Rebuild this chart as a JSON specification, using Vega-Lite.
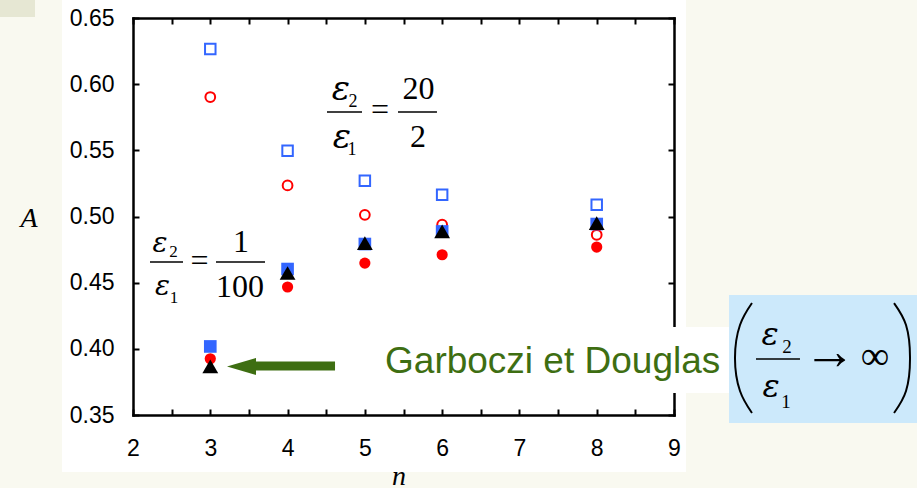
{
  "$schema": "https://vega.github.io/schema/vega-lite/v6.json",
  "width": 541,
  "height": 397,
  "autosize": {"type": "none"},
  "padding": {"left": 133, "top": 18, "right": 243, "bottom": 73},
  "background": "white",
  "config": {
    "view": {"stroke": null},
    "axis": {
      "domainColor": "black", "domainWidth": 2.5, "domainCap": "square",
      "tickColor": "black", "tickWidth": 2, "tickSize": -6,
      "labelFont": "Liberation Sans", "labelFontSize": 23, "labelColor": "black",
      "grid": false, "title": null, "zindex": 0
    }
  },
  "datasets": {
    "pts": [
      {"n": 3, "A": 0.6266, "series": "20/2 square"},
      {"n": 4, "A": 0.5497, "series": "20/2 square"},
      {"n": 5, "A": 0.5270, "series": "20/2 square"},
      {"n": 6, "A": 0.5164, "series": "20/2 square"},
      {"n": 8, "A": 0.5089, "series": "20/2 square"},
      {"n": 3, "A": 0.5903, "series": "20/2 circle"},
      {"n": 4, "A": 0.5235, "series": "20/2 circle"},
      {"n": 5, "A": 0.5013, "series": "20/2 circle"},
      {"n": 6, "A": 0.4938, "series": "20/2 circle"},
      {"n": 8, "A": 0.4862, "series": "20/2 circle"},
      {"n": 3, "A": 0.3925, "series": "1/100 circle"},
      {"n": 4, "A": 0.4467, "series": "1/100 circle"},
      {"n": 5, "A": 0.4648, "series": "1/100 circle"},
      {"n": 6, "A": 0.4711, "series": "1/100 circle"},
      {"n": 8, "A": 0.4769, "series": "1/100 circle"},
      {"n": 3, "A": 0.4018, "series": "1/100 square"},
      {"n": 4, "A": 0.4603, "series": "1/100 square"},
      {"n": 5, "A": 0.4792, "series": "1/100 square"},
      {"n": 6, "A": 0.4887, "series": "1/100 square"},
      {"n": 8, "A": 0.4943, "series": "1/100 square"},
      {"n": 3, "A": 0.3868, "series": "Garboczi et Douglas"},
      {"n": 4, "A": 0.4573, "series": "Garboczi et Douglas"},
      {"n": 5, "A": 0.4799, "series": "Garboczi et Douglas"},
      {"n": 6, "A": 0.4887, "series": "Garboczi et Douglas"},
      {"n": 8, "A": 0.4950, "series": "Garboczi et Douglas"}
    ]
  },
  "resolve": {"axis": {"x": "independent", "y": "independent"}, "scale": {"size": "independent"}},
  "layer": [
    {
      "data": {"values": [
        {"x": 0.15, "x2": 1.081, "y": 0.6712, "y2": 0.2858},
        {"x": 9.155, "x2": 12.313, "y": 0.6712, "y2": 0.2858},
        {"x": 0.15, "x2": 12.313, "y": 0.3069, "y2": 0.2858}
      ]},
      "mark": {"type": "rect", "fill": "#f9f9f0", "clip": false},
      "encoding": {
        "x": {"field": "x", "type": "quantitative", "scale": {"domain": [2, 9], "nice": false, "zero": false}, "axis": null},
        "x2": {"field": "x2"},
        "y": {"field": "y", "type": "quantitative", "scale": {"domain": [0.35, 0.65], "nice": false, "zero": false}, "axis": null},
        "y2": {"field": "y2"}
      }
    },
    {
      "data": {"values": [{"x": 0.15, "x2": 0.732, "y": 0.6712, "y2": 0.6508}]},
      "mark": {"type": "rect", "fill": "#e6e7d3"},
      "encoding": {
        "x": {"field": "x", "type": "quantitative", "scale": {"domain": [2, 9], "nice": false, "zero": false}, "axis": null},
        "x2": {"field": "x2"},
        "y": {"field": "y", "type": "quantitative", "scale": {"domain": [0.35, 0.65], "nice": false, "zero": false}, "axis": null},
        "y2": {"field": "y2"}
      }
    },
    {
      "data": {"values": [{"x": 4.678, "x2": 9.712, "y": 0.4165, "y2": 0.3666}]},
      "mark": {"type": "rect", "fill": "white"},
      "encoding": {
        "x": {"field": "x", "type": "quantitative", "scale": {"domain": [2, 9], "nice": false, "zero": false}, "axis": null},
        "x2": {"field": "x2"},
        "y": {"field": "y", "type": "quantitative", "scale": {"domain": [0.35, 0.65], "nice": false, "zero": false}, "axis": null},
        "y2": {"field": "y2"}
      }
    },
    {
      "data": {"values": [{"x": 9.712, "x2": 12.313, "y": 0.4407, "y2": 0.344}]},
      "mark": {"type": "rect", "fill": "#cce9fb"},
      "encoding": {
        "x": {"field": "x", "type": "quantitative", "scale": {"domain": [2, 9], "nice": false, "zero": false}, "axis": null},
        "x2": {"field": "x2"},
        "y": {"field": "y", "type": "quantitative", "scale": {"domain": [0.35, 0.65], "nice": false, "zero": false}, "axis": null},
        "y2": {"field": "y2"}
      }
    },
    {
      "data": {"name": "pts"},
      "transform": [{"filter": "datum.series == '20/2 square'"}],
      "mark": {"type": "point", "shape": "square", "filled": false, "stroke": "#3366ff", "strokeWidth": 2, "size": 110, "opacity": 1},
      "encoding": {
        "x": {"field": "n", "type": "quantitative", "scale": {"domain": [2, 9], "nice": false, "zero": false},
              "axis": {"orient": "bottom", "values": [2, 2.5, 3, 3.5, 4, 4.5, 5, 5.5, 6, 6.5, 7, 7.5, 8, 8.5, 9], "labelExpr": "datum.value % 1 == 0 ? datum.value : ''", "labelPadding": 28, "labelFlush": false}},
        "y": {"field": "A", "type": "quantitative", "scale": {"domain": [0.35, 0.65], "nice": false, "zero": false},
              "axis": {"orient": "left", "values": [0.35, 0.4, 0.45, 0.5, 0.55, 0.6, 0.65], "format": ".2f", "labelPadding": 25, "labelFlush": false}}
      }
    },
    {
      "data": {"name": "pts"},
      "transform": [{"filter": "datum.series == '20/2 circle'"}],
      "mark": {"type": "point", "shape": "circle", "filled": false, "stroke": "#ff0000", "strokeWidth": 2, "size": 95, "opacity": 1},
      "encoding": {
        "x": {"field": "n", "type": "quantitative", "scale": {"domain": [2, 9], "nice": false, "zero": false}, "axis": null},
        "y": {"field": "A", "type": "quantitative", "scale": {"domain": [0.35, 0.65], "nice": false, "zero": false}, "axis": null}
      }
    },
    {
      "data": {"name": "pts"},
      "transform": [{"filter": "datum.series == '1/100 circle'"}],
      "mark": {"type": "point", "shape": "circle", "filled": true, "color": "#ff0000", "size": 125, "opacity": 1},
      "encoding": {
        "x": {"field": "n", "type": "quantitative", "scale": {"domain": [2, 9], "nice": false, "zero": false}, "axis": null},
        "y": {"field": "A", "type": "quantitative", "scale": {"domain": [0.35, 0.65], "nice": false, "zero": false}, "axis": null}
      }
    },
    {
      "data": {"name": "pts"},
      "transform": [{"filter": "datum.series == '1/100 square'"}],
      "mark": {"type": "point", "shape": "square", "filled": true, "color": "#3366ff", "size": 160, "opacity": 1},
      "encoding": {
        "x": {"field": "n", "type": "quantitative", "scale": {"domain": [2, 9], "nice": false, "zero": false}, "axis": null},
        "y": {"field": "A", "type": "quantitative", "scale": {"domain": [0.35, 0.65], "nice": false, "zero": false}, "axis": null}
      }
    },
    {
      "data": {"name": "pts"},
      "transform": [{"filter": "datum.series == 'Garboczi et Douglas'"}],
      "mark": {"type": "point", "shape": "triangle-up", "filled": true, "color": "black", "size": 250, "opacity": 1},
      "encoding": {
        "x": {"field": "n", "type": "quantitative", "scale": {"domain": [2, 9], "nice": false, "zero": false},
              "axis": {"orient": "top", "values": [2, 2.5, 3, 3.5, 4, 4.5, 5, 5.5, 6, 6.5, 7, 7.5, 8, 8.5, 9], "labels": false}},
        "y": {"field": "A", "type": "quantitative", "scale": {"domain": [0.35, 0.65], "nice": false, "zero": false},
              "axis": {"orient": "right", "values": [0.35, 0.4, 0.45, 0.5, 0.55, 0.6, 0.65], "labels": false}}
      }
    },
    {
      "data": {"values": [
        {"f": "F1", "x": 4.510, "x2": 4.963, "y": 0.5790},
        {"f": "F1", "x": 5.429, "x2": 5.933, "y": 0.5790},
        {"f": "F2", "x": 2.220, "x2": 2.647, "y": 0.4656},
        {"f": "F2", "x": 3.074, "x2": 3.708, "y": 0.4656},
        {"f": "F3", "x": 10.061, "x2": 10.630, "y": 0.3923}
      ]},
      "mark": {"type": "rule", "color": "black", "strokeWidth": 1.5},
      "encoding": {
        "x": {"field": "x", "type": "quantitative", "scale": {"domain": [2, 9], "nice": false, "zero": false}, "axis": null},
        "x2": {"field": "x2"},
        "y": {"field": "y", "type": "quantitative", "scale": {"domain": [0.35, 0.65], "nice": false, "zero": false}, "axis": null}
      }
    },
    {
      "data": {"values": [
        {"f": "F1", "x": 4.691, "y": 0.5880, "t": "ε"},
        {"f": "F1", "x": 4.704, "y": 0.5518, "t": "ε"},
        {"f": "F2", "x": 2.349, "y": 0.4732, "t": "ε"},
        {"f": "F2", "x": 2.382, "y": 0.4407, "t": "ε"},
        {"f": "F3", "x": 10.242, "y": 0.4029, "t": "ε"},
        {"f": "F3", "x": 10.255, "y": 0.3636, "t": "ε"}
      ]},
      "mark": {"type": "text", "font": "DejaVu Serif", "fontStyle": "italic", "align": "center", "baseline": "alphabetic", "color": "black"},
      "encoding": {
        "x": {"field": "x", "type": "quantitative", "scale": {"domain": [2, 9], "nice": false, "zero": false}, "axis": null},
        "y": {"field": "y", "type": "quantitative", "scale": {"domain": [0.35, 0.65], "nice": false, "zero": false}, "axis": null},
        "text": {"field": "t"},
        "size": {"field": "f", "type": "nominal", "scale": {"type": "ordinal", "domain": ["F1", "F2", "F3"], "range": [34, 28, 32]}, "legend": null}
      }
    },
    {
      "data": {"values": [
        {"f": "F1", "x": 4.847, "y": 0.5827, "t": "2"},
        {"f": "F1", "x": 4.834, "y": 0.5465, "t": "1"},
        {"f": "F2", "x": 2.524, "y": 0.4694, "t": "2"},
        {"f": "F2", "x": 2.530, "y": 0.4346, "t": "1"},
        {"f": "F3", "x": 10.462, "y": 0.3969, "t": "2"},
        {"f": "F3", "x": 10.449, "y": 0.3553, "t": "1"}
      ]},
      "mark": {"type": "text", "font": "Liberation Serif", "align": "center", "baseline": "alphabetic", "color": "black"},
      "encoding": {
        "x": {"field": "x", "type": "quantitative", "scale": {"domain": [2, 9], "nice": false, "zero": false}, "axis": null},
        "y": {"field": "y", "type": "quantitative", "scale": {"domain": [0.35, 0.65], "nice": false, "zero": false}, "axis": null},
        "text": {"field": "t"},
        "size": {"field": "f", "type": "nominal", "scale": {"type": "ordinal", "domain": ["F1", "F2", "F3"], "range": [18, 17, 19]}, "legend": null}
      }
    },
    {
      "data": {"values": [
        {"x": 5.196, "y": 0.5729, "t": "="},
        {"x": 5.694, "y": 0.5888, "t": "20"},
        {"x": 5.688, "y": 0.5525, "t": "2"},
        {"x": 2.860, "y": 0.4588, "t": "="},
        {"x": 3.397, "y": 0.4732, "t": "1"},
        {"x": 3.384, "y": 0.4392, "t": "100"}
      ]},
      "mark": {"type": "text", "font": "Liberation Serif", "fontSize": 32, "align": "center", "baseline": "alphabetic", "color": "black"},
      "encoding": {
        "x": {"field": "x", "type": "quantitative", "scale": {"domain": [2, 9], "nice": false, "zero": false}, "axis": null},
        "y": {"field": "y", "type": "quantitative", "scale": {"domain": [0.35, 0.65], "nice": false, "zero": false}, "axis": null},
        "text": {"field": "t"}
      }
    },
    {
      "data": {"values": [{"x": 11.012, "y": 0.3848, "t": "→"}]},
      "mark": {"type": "text", "font": "Liberation Serif", "fontSize": 52, "align": "center", "baseline": "alphabetic", "color": "black"},
      "encoding": {
        "x": {"field": "x", "type": "quantitative", "scale": {"domain": [2, 9], "nice": false, "zero": false}, "axis": null},
        "y": {"field": "y", "type": "quantitative", "scale": {"domain": [0.35, 0.65], "nice": false, "zero": false}, "axis": null},
        "text": {"field": "t"}
      }
    },
    {
      "data": {"values": [{"x": 11.6, "y": 0.3848, "t": "∞"}]},
      "mark": {"type": "text", "font": "Liberation Serif", "fontSize": 40, "align": "center", "baseline": "alphabetic", "color": "black"},
      "encoding": {
        "x": {"field": "x", "type": "quantitative", "scale": {"domain": [2, 9], "nice": false, "zero": false}, "axis": null},
        "y": {"field": "y", "type": "quantitative", "scale": {"domain": [0.35, 0.65], "nice": false, "zero": false}, "axis": null},
        "text": {"field": "t"}
      }
    },
    {
      "data": {"values": [
        {"side": "L", "k": 0, "x": 10.009, "y": 0.4346},
        {"side": "L", "k": 1, "x": 9.854, "y": 0.4180},
        {"side": "L", "k": 2, "x": 9.789, "y": 0.3931},
        {"side": "L", "k": 3, "x": 9.854, "y": 0.3681},
        {"side": "L", "k": 4, "x": 10.009, "y": 0.3515},
        {"side": "R", "k": 0, "x": 11.847, "y": 0.4346},
        {"side": "R", "k": 1, "x": 12.002, "y": 0.4180},
        {"side": "R", "k": 2, "x": 12.054, "y": 0.3931},
        {"side": "R", "k": 3, "x": 12.002, "y": 0.3681},
        {"side": "R", "k": 4, "x": 11.847, "y": 0.3515}
      ]},
      "mark": {"type": "line", "interpolate": "natural", "color": "black", "strokeWidth": 2},
      "encoding": {
        "x": {"field": "x", "type": "quantitative", "scale": {"domain": [2, 9], "nice": false, "zero": false}, "axis": null},
        "y": {"field": "y", "type": "quantitative", "scale": {"domain": [0.35, 0.65], "nice": false, "zero": false}, "axis": null},
        "detail": {"field": "side"},
        "order": {"field": "k"}
      }
    },
    {
      "data": {"values": [{"x": 3.514, "x2": 4.614, "y": 0.3870}]},
      "mark": {"type": "rule", "color": "#3e6e12", "strokeWidth": 9, "strokeCap": "butt"},
      "encoding": {
        "x": {"field": "x", "type": "quantitative", "scale": {"domain": [2, 9], "nice": false, "zero": false}, "axis": null},
        "x2": {"field": "x2"},
        "y": {"field": "y", "type": "quantitative", "scale": {"domain": [0.35, 0.65], "nice": false, "zero": false}, "axis": null}
      }
    },
    {
      "data": {"values": [{"x": 3.404, "y": 0.3867}]},
      "mark": {"type": "point", "shape": "M -1 0 L 1 -0.586 L 1 0.586 Z", "filled": true, "color": "#3e6e12", "size": 841, "opacity": 1},
      "encoding": {
        "x": {"field": "x", "type": "quantitative", "scale": {"domain": [2, 9], "nice": false, "zero": false}, "axis": null},
        "y": {"field": "y", "type": "quantitative", "scale": {"domain": [0.35, 0.65], "nice": false, "zero": false}, "axis": null}
      }
    },
    {
      "data": {"values": [{"x": 5.261, "y": 0.3817, "t": "Garboczi et Douglas"}]},
      "mark": {"type": "text", "font": "Liberation Sans", "fontSize": 37, "align": "left", "baseline": "alphabetic", "color": "#3e6e12"},
      "encoding": {
        "x": {"field": "x", "type": "quantitative", "scale": {"domain": [2, 9], "nice": false, "zero": false}, "axis": null},
        "y": {"field": "y", "type": "quantitative", "scale": {"domain": [0.35, 0.65], "nice": false, "zero": false}, "axis": null},
        "text": {"field": "t"}
      }
    },
    {
      "data": {"values": [
        {"x": 0.654, "y": 0.4921, "t": "A"},
        {"x": 5.442, "y": 0.2971, "t": "n"}
      ]},
      "mark": {"type": "text", "font": "Liberation Serif", "fontStyle": "italic", "fontSize": 28, "align": "center", "baseline": "alphabetic", "color": "black"},
      "encoding": {
        "x": {"field": "x", "type": "quantitative", "scale": {"domain": [2, 9], "nice": false, "zero": false}, "axis": null},
        "y": {"field": "y", "type": "quantitative", "scale": {"domain": [0.35, 0.65], "nice": false, "zero": false}, "axis": null},
        "text": {"field": "t"}
      }
    }
  ]
}
